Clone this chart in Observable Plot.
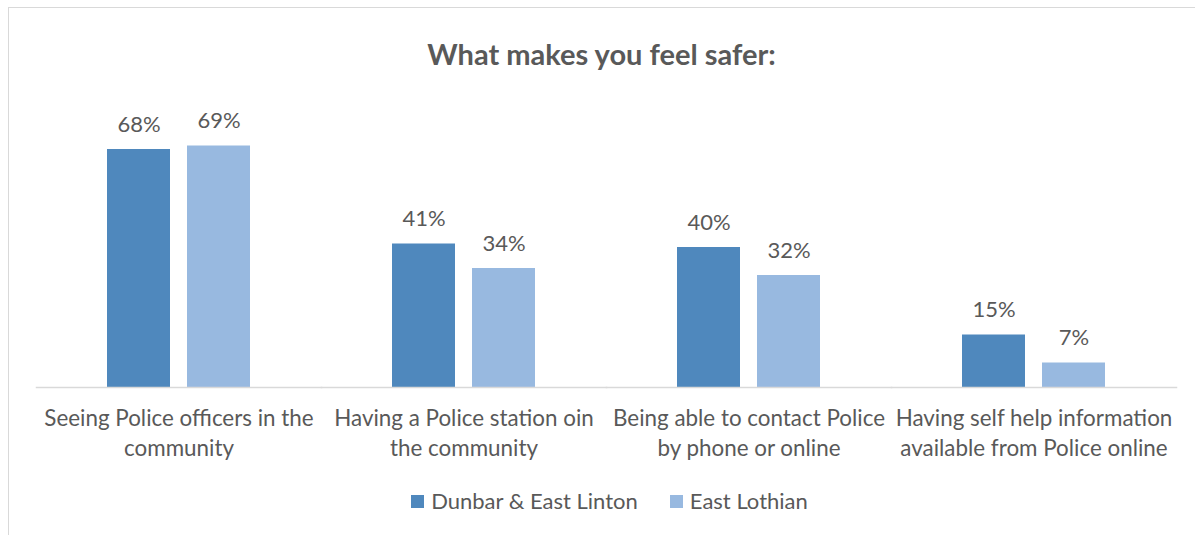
<!DOCTYPE html>
<html>
<head>
<meta charset="utf-8">
<script src="https://cdn.jsdelivr.net/npm/d3@7"></script>
<script src="https://cdn.jsdelivr.net/npm/@observablehq/plot@0.6"></script>
<style>
  html, body { margin: 0; padding: 0; background: #fff; }
  #wrap { position: relative; width: 1195px; height: 535px; overflow: hidden; font-family: Lato, sans-serif; color: #595959; }
  #frame { position: absolute; left: 8px; top: 7px; width: 1300px; height: 600px; border-top: 1px solid #d9d9d9; border-left: 1px solid #d9d9d9; }
  #title { position: absolute; left: 4px; width: 1195px; top: 35px; text-align: center; font-weight: bold; font-size: 29px; line-height: 38px; color: #595959; }
  #chart { position: absolute; left: 0; top: 100px; }
  #legend { position: absolute; left: 12px; width: 1195px; top: 487px; text-align: center; font-size: 22px; line-height: 28px; }
  #legend .item { display: inline-block; margin: 0 16px; }
  #legend .sw { display: inline-block; width: 13px; height: 13px; margin-right: 7px; vertical-align: 1px; }
</style>
</head>
<body>
<div id="wrap">
  <div id="frame"></div>
  <div id="title"></div>
  <div id="chart"></div>
  <div id="legend"></div>
</div>
<script>
const titleText = "What makes you feel safer:";
const categories = [
  "Seeing Police officers in the community",
  "Having a Police station oin the community",
  "Being able to contact Police by phone or online",
  "Having self help information available from Police online"
];
const categoryLabels = [
  "Seeing Police officers in the\ncommunity",
  "Having a Police station oin\nthe community",
  "Being able to contact Police\nby phone or online",
  "Having self help information\navailable from Police online"
];
const series = ["Dunbar & East Linton", "East Lothian"];
const dunbarValues = [68, 41, 40, 15];
const eastLothianValues = [69, 34, 32, 7];
const colors = ["#4f88bd", "#98b9e0"];

const data = categories.flatMap((c, i) => [
  {cat: c, series: series[0], value: dunbarValues[i]},
  {cat: c, series: series[1], value: eastLothianValues[i]}
]);

document.getElementById("title").textContent = titleText;

const chart = Plot.plot({
  width: 1195,
  height: 370,
  marginTop: 7,
  marginBottom: 83,
  marginLeft: 36,
  marginRight: 19,
  style: {fontFamily: "Lato, sans-serif", color: "#595959", background: "transparent"},
  fx: {domain: categories, padding: 0, label: null},
  x: {domain: series, paddingInner: 0.21, paddingOuter: 0.87, axis: null},
  y: {domain: [0, 80], axis: null},
  color: {domain: series, range: colors},
  marks: [
    Plot.barY(data, {fx: "cat", x: "series", y: "value", fill: "series"}),
    Plot.frame({anchor: "bottom", stroke: "#d9d9d9", strokeWidth: 1.5}),
    Plot.text(data, {fx: "cat", x: "series", y: "value", text: d => d.value + "%", lineAnchor: "bottom", dy: -18, fontSize: 22, fill: "#595959"}),
    Plot.axisFx({
      anchor: "bottom",
      tickSize: 0,
      tickPadding: 17,
      fontSize: 22.4,
      lineHeight: 1.34,
      label: null,
      tickFormat: c => categoryLabels[categories.indexOf(c)]
    })
  ]
});
document.getElementById("chart").appendChild(chart);

const legend = document.getElementById("legend");
series.forEach((s, i) => {
  const item = document.createElement("span");
  item.className = "item";
  const sw = document.createElement("span");
  sw.className = "sw";
  sw.style.background = colors[i];
  item.appendChild(sw);
  item.appendChild(document.createTextNode(s));
  legend.appendChild(item);
});
</script>
</body>
</html>
